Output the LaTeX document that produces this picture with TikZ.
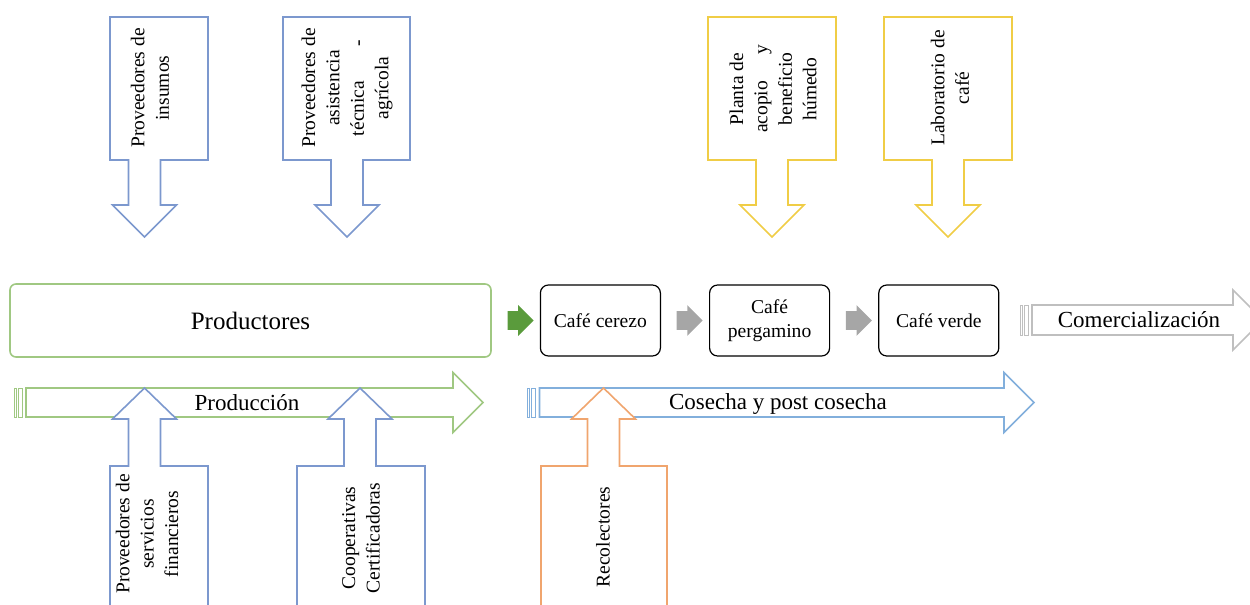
\documentclass[tikz,border=0pt]{standalone}
\usepackage{fontspec}
\setmainfont{Liberation Serif}
\usetikzlibrary{%
	calc,%
	positioning,%
	shapes.arrows,%
}
\definecolor{cblue}{RGB}{124, 152, 206}
\definecolor{cyellow}{RGB}{240, 205, 70}
\definecolor{corange}{RGB}{240, 165, 110}
\definecolor{cgreen}{RGB}{160, 200, 130}
\definecolor{cgreendark}{RGB}{90, 155, 60}
\definecolor{clightblue}{RGB}{130, 175, 220}
\definecolor{cgray}{RGB}{191, 191, 191}
\definecolor{cgraydark}{RGB}{166, 166, 166}
\tikzset{
	callout/.style={%
			draw,%
			fill=white,%
			line width=0.8pt,%
			line join=miter},%
	calltext/.style={%
			rotate=90,%
			align=center,%
			inner sep=0,%
			font={\fontsize{9.75}{12.2}\selectfont}},%
	stage/.style={%
			draw,%
			rectangle,%
			rounded corners=4pt,%
			line width=0.6pt,%
			minimum width=60pt,%
			minimum height=35.5pt,%
			align=center,%
			font={\fontsize{9.8}{12}\selectfont}},%
	producers/.style={%
			draw=cgreen,%
			rectangle,%
			rounded corners=3pt,%
			line width=0.8pt,%
			minimum width=240.5pt,%
			minimum height=36.5pt,%
			font={\fontsize{12.5}{14}\selectfont}},%
	flowarrow/.style={%
			shape=single arrow,%
			draw=none,%
			minimum height=13pt,%
			inner xsep=0pt,%
			inner ysep=4.5pt,%
			single arrow head extend=3pt},%
	phase/.style={%
			inner sep=0,%
			font={\fontsize{11.5}{13}\selectfont}},%
}
\newcommand{\downcall}[4]{%
	\filldraw[#1] (#2,17) -- (#3,17) -- (#3,160) -- (#4+16,160) -- (#4+16,205) -- (#4+32,205) -- (#4,237)
	-- (#4-32,205) -- (#4-16,205) -- (#4-16,160) -- (#2,160) -- cycle;}
\newcommand{\upcall}[4]{%
	\filldraw[#1] (#2,610) -- (#2,466) -- (#4-16,466) -- (#4-16,419) -- (#4-32,419) -- (#4,388)
	-- (#4+32,419) -- (#4+16,419) -- (#4+16,466) -- (#3,466) -- (#3,610) -- cycle;}
\newcommand{\stripearrow}[5]{%
	\filldraw[#1, line width=0.4pt] (#2,#4-#5) rectangle (#2+2,#4+#5);
	\filldraw[#1, line width=0.4pt] (#2+4,#4-#5) rectangle (#2+8,#4+#5);
	\filldraw[#1] (#2+12,#4-#5) -- (#3,#4-#5) -- (#3,#4-30) -- (#3+30,#4) -- (#3,#4+30) -- (#3,#4+#5)
	-- (#2+12,#4+#5) -- cycle;}

\begin{document}
\begin{tikzpicture}[x=0.5pt, y=-0.5pt]
	\path[use as bounding box, clip] (0,0) rectangle (1250,605);

	\downcall{callout, draw=cblue}{110}{208}{144.5}
	\downcall{callout, draw=cblue}{283}{410}{347}
	\downcall{callout, draw=cyellow}{708}{836}{772}
	\downcall{callout, draw=cyellow}{884}{1012}{948}
	\node[calltext] (insumos) at (150,88) {Proveedores de\\insumos};
	\node[calltext] (asistencia) at (347,88) {Proveedores de\\asistencia\\\makebox[48pt][s]{técnica -}\\agrícola};
	\node[calltext] (planta) at (773,89) {Planta de\\\makebox[44pt][s]{acopio y}\\beneficio\\húmedo};
	\node[calltext] (laboratorio) at (950,88) {Laboratorio de\\café};

	\node[producers] (prod) at (250.5,320.5) {Productores};
	\node[stage] (cerezo) [right=24pt of prod] {Café cerezo};
	\node[stage] (pergamino) [right=24pt of cerezo] {Café\\pergamino};
	\node[stage] (verde) [right=24pt of pergamino] {Café verde};
	\node[flowarrow, fill=cgreendark] (a0) at ($(prod.east)!0.5!(cerezo.west)$) {};
	\node[flowarrow, fill=cgraydark] (a1) at ($(cerezo.east)!0.5!(pergamino.west)$) {};
	\node[flowarrow, fill=cgraydark] (a2) at ($(pergamino.east)!0.5!(verde.west)$) {};

	\stripearrow{callout, draw=cgray}{1020}{1233}{320}{15}
	\node[phase] (comercial) at (1139,320) {Comercialización};

	\stripearrow{callout, draw=cgreen}{14}{453}{402.5}{14.5}
	\node[phase] (produccion) at (247,403) {Producción};
	\stripearrow{callout, draw=clightblue}{527.5}{1004}{402.5}{14.5}
	\node[phase] (cosecha) at (778,404) {Cosecha y post cosecha};

	\upcall{callout, draw=cblue}{110}{208}{144.5}
	\upcall{callout, draw=cblue}{297}{425}{360}
	\upcall{callout, draw=corange}{541}{667}{603.5}
	\node[calltext] (financieros) at (147,534) {Proveedores de\\servicios\\financieros};
	\node[calltext] (cooperativas) at (361,538) {Cooperativas\\Certificadoras};
	\node[calltext] (recolectores) at (603,537) {Recolectores};
\end{tikzpicture}
\end{document}
